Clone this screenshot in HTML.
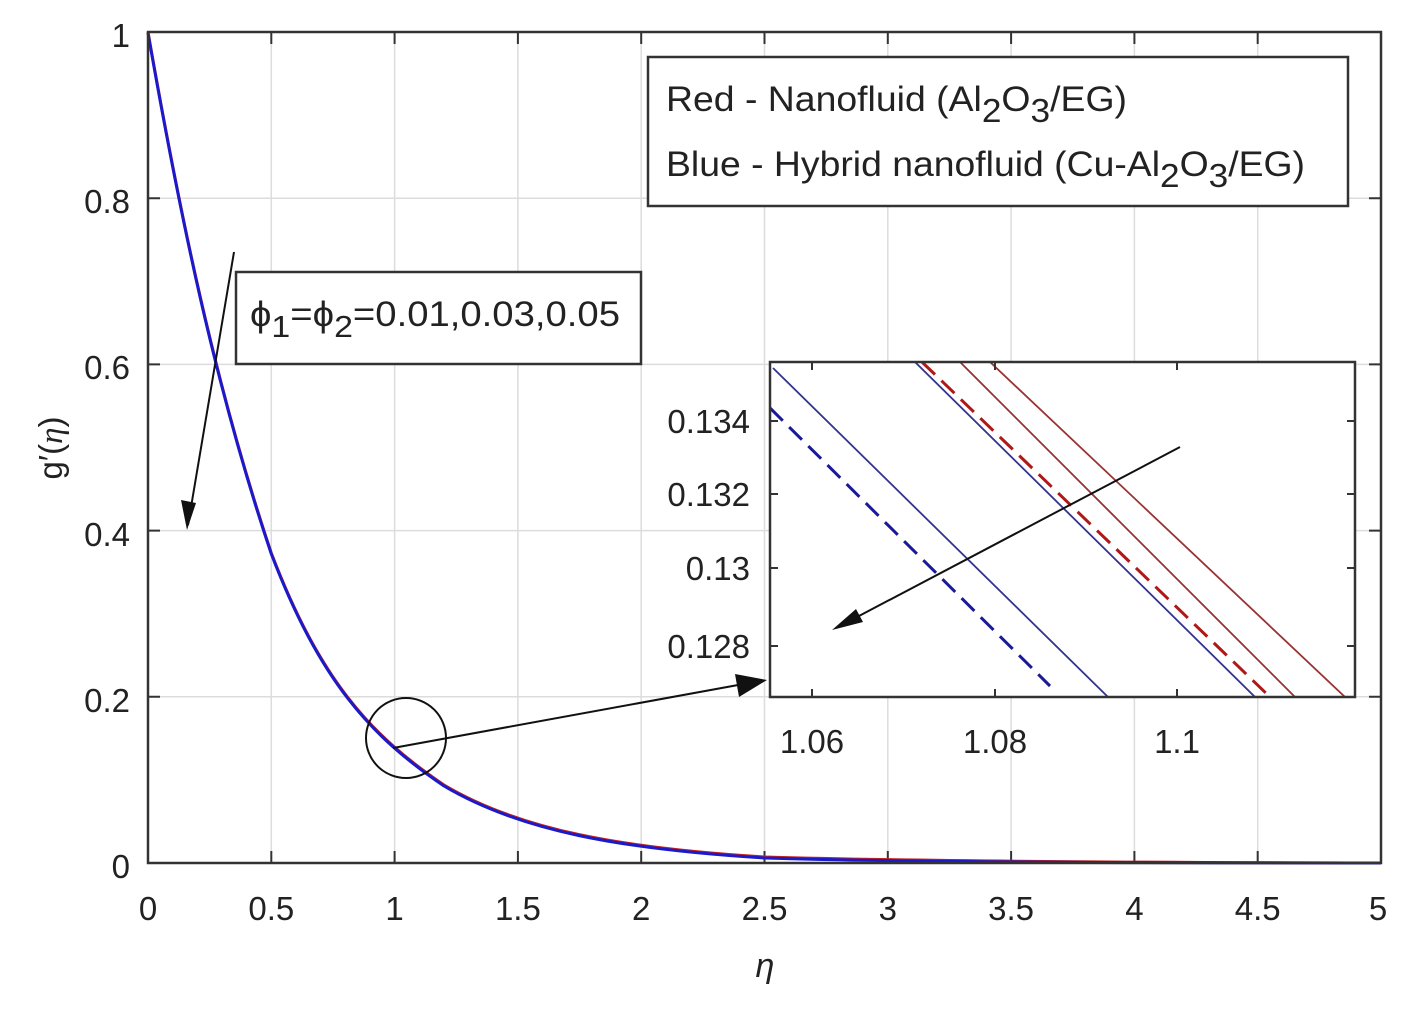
<!DOCTYPE html>
<html><head><style>
html,body{margin:0;padding:0;background:#fff;}
svg text{font-family:"Liberation Sans",sans-serif;fill:#222;}
</style></head><body>
<svg width="1417" height="1006" viewBox="0 0 1417 1006" xmlns="http://www.w3.org/2000/svg">
<rect x="0" y="0" width="1417" height="1006" fill="#fff"/>
<g stroke="#dcdcdc" stroke-width="1.5">
<line x1="271.3" y1="32" x2="271.3" y2="863"/><line x1="394.6" y1="32" x2="394.6" y2="863"/>
<line x1="517.9" y1="32" x2="517.9" y2="863"/><line x1="641.2" y1="32" x2="641.2" y2="863"/>
<line x1="764.5" y1="32" x2="764.5" y2="863"/><line x1="887.8" y1="32" x2="887.8" y2="863"/>
<line x1="1011.1" y1="32" x2="1011.1" y2="863"/><line x1="1134.4" y1="32" x2="1134.4" y2="863"/>
<line x1="1257.7" y1="32" x2="1257.7" y2="863"/>
<line x1="148" y1="198.2" x2="1381" y2="198.2"/><line x1="148" y1="364.4" x2="1381" y2="364.4"/>
<line x1="148" y1="530.6" x2="1381" y2="530.6"/><line x1="148" y1="696.8" x2="1381" y2="696.8"/>
</g>
<g stroke="#333" stroke-width="2">
<path d="M271.3 863v-12M394.6 863v-12M517.9 863v-12M641.2 863v-12M764.5 863v-12M887.8 863v-12M1011.1 863v-12M1134.4 863v-12M1257.7 863v-12"/>
<path d="M271.3 32v12M394.6 32v12M517.9 32v12M641.2 32v12M764.5 32v12M887.8 32v12M1011.1 32v12M1134.4 32v12M1257.7 32v12"/>
<path d="M148 198.2h12M148 364.4h12M148 530.6h12M148 696.8h12M1381 198.2h-12M1381 364.4h-12M1381 530.6h-12M1381 696.8h-12"/>
</g>
<path fill="none" stroke="#c02020" stroke-width="3" d="M148,32 C180,215 215,385 271.3,553 C320,680 370,735 444,785 C520,830 620,848 764.5,857 C900,861 1100,862.5 1381,863"/>
<path fill="none" stroke="#1a1acc" stroke-width="3" d="M148,33 C180,216 215,386 271.3,554 C320,681 370,736 444,786 C520,831 620,849 764.5,858 C900,862 1100,863 1381,863"/>
<rect x="148" y="32" width="1233" height="831" fill="none" stroke="#333" stroke-width="2.5"/>
<g font-size="33" text-anchor="middle">
<text x="148" y="920">0</text><text x="271.3" y="920">0.5</text><text x="394.6" y="920">1</text>
<text x="517.9" y="920">1.5</text><text x="641.2" y="920">2</text><text x="764.5" y="920">2.5</text>
<text x="887.8" y="920">3</text><text x="1011.1" y="920">3.5</text><text x="1134.4" y="920">4</text>
<text x="1257.7" y="920">4.5</text><text x="1378" y="920">5</text>
</g>
<g font-size="33" text-anchor="end">
<text x="130" y="47">1</text><text x="130" y="213">0.8</text><text x="130" y="379">0.6</text>
<text x="130" y="546">0.4</text><text x="130" y="712">0.2</text><text x="130" y="878">0</text>
</g>
<text x="765" y="977" font-size="34" font-style="italic" font-family="Liberation Serif" text-anchor="middle">η</text>
<text transform="translate(62,448) rotate(-90)" font-size="33" text-anchor="middle">g′(<tspan font-style="italic" font-family="Liberation Serif">η</tspan>)</text>
<rect x="648" y="57" width="700" height="149" fill="#fff" stroke="#333" stroke-width="2.5"/>
<text x="666" y="111" font-size="35" textLength="461" lengthAdjust="spacingAndGlyphs">Red - Nanofluid (Al<tspan dy="11" font-size="33">2</tspan><tspan dy="-11">O</tspan><tspan dy="11" font-size="33">3</tspan><tspan dy="-11">/EG)</tspan></text>
<text x="666" y="176" font-size="35" textLength="639" lengthAdjust="spacingAndGlyphs">Blue - Hybrid nanofluid (Cu-Al<tspan dy="11" font-size="33">2</tspan><tspan dy="-11">O</tspan><tspan dy="11" font-size="33">3</tspan><tspan dy="-11">/EG)</tspan></text>
<rect x="236" y="272" width="405" height="92" fill="#fff" stroke="#333" stroke-width="2.5"/>
<text x="250" y="326" font-size="35" textLength="370" lengthAdjust="spacingAndGlyphs">ϕ<tspan dy="11" font-size="31">1</tspan><tspan dy="-11">=ϕ</tspan><tspan dy="11" font-size="31">2</tspan><tspan dy="-11">=0.01,0.03,0.05</tspan></text>
<line x1="234" y1="252" x2="188" y2="525" stroke="#111" stroke-width="2"/>
<path d="M187,530 L181,500 L196,503 Z" fill="#111"/>
<circle cx="406" cy="738" r="40" fill="none" stroke="#111" stroke-width="2"/>
<line x1="393" y1="748" x2="760" y2="681" stroke="#111" stroke-width="2"/>
<path d="M767,680 L735,674 L739,697 Z" fill="#111"/>
<rect x="770" y="362" width="585" height="335" fill="#fff"/>
<svg x="770" y="362" width="585" height="335" overflow="hidden">
<g fill="none" stroke-width="1.8">
<line x1="3" y1="6" x2="338" y2="335" stroke="#33338f"/>
<line x1="145" y1="0" x2="485" y2="335" stroke="#33338f"/>
<line x1="190" y1="0" x2="525" y2="335" stroke="#993333"/>
<line x1="220" y1="0" x2="575" y2="335" stroke="#993333"/>
<line x1="0" y1="46" x2="280" y2="324" stroke="#1a1a99" stroke-width="3" stroke-dasharray="18,9"/>
<line x1="152" y1="0" x2="500" y2="335" stroke="#b01818" stroke-width="3" stroke-dasharray="18,9"/>
</g>
</svg>
<g stroke="#333" stroke-width="2">
<path d="M812 697v-8M995 697v-8M1177 697v-8M812 362v8M995 362v8M1177 362v8"/>
<path d="M770 421h8M770 494h8M770 568h8M770 646h8M1355 421h-8M1355 494h-8M1355 568h-8M1355 646h-8"/>
</g>
<rect x="770" y="362" width="585" height="335" fill="none" stroke="#333" stroke-width="2.5"/>
<g font-size="33" text-anchor="end">
<text x="750" y="433">0.134</text><text x="750" y="506">0.132</text><text x="750" y="580">0.13</text><text x="750" y="658">0.128</text>
</g>
<g font-size="33" text-anchor="middle">
<text x="812" y="753">1.06</text><text x="995" y="753">1.08</text><text x="1177" y="753">1.1</text>
</g>
<line x1="1180" y1="447" x2="840" y2="626" stroke="#111" stroke-width="2"/>
<path d="M832,630 L856,609 L863,622 Z" fill="#111"/>
</svg>
</body></html>
